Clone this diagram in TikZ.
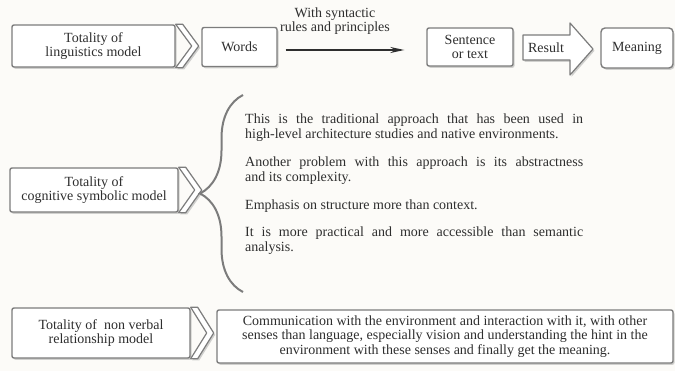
\documentclass[tikz,border=0pt]{standalone}
\usepackage{fontspec}
\setmainfont{Liberation Serif}
\usetikzlibrary{arrows.meta,shadows,decorations.pathreplacing}
\definecolor{cPaper}{HTML}{FCFBF8}
\definecolor{cInk}{HTML}{2E2E2E}
\definecolor{cEdge}{HTML}{7C7C7C}
% chevron glued to the right side of a model box
\newcommand{\chevr}[1]{%
  \draw[chev] (#1.north east) -- ([xshift=7pt]#1.north east) -- ([xshift=23pt]#1.east)
    -- ([xshift=7pt]#1.south east) -- (#1.south east) -- ([xshift=16pt]#1.east) -- cycle;}

\begin{document}
\begin{tikzpicture}[x=1pt,y=-1pt,
  every node/.style={font=\fontsize{14}{14.5}\selectfont,text=cInk},
  box/.style={draw=cEdge,line width=1.4pt,fill=white,rounded corners=2pt,align=center,
    inner sep=2pt,drop shadow={shadow xshift=1.5pt,shadow yshift=-1.8pt,opacity=.35}},
  chev/.style={draw=cEdge,line width=1.2pt,fill=white,line join=round,
    drop shadow={shadow xshift=1.5pt,shadow yshift=-1.8pt,opacity=.35}},
  item/.style={anchor=base west,inner sep=0pt,text width=338pt,align=justify},
  >=Stealth]
\useasboundingbox[fill=cPaper] (0,0) rectangle (675,371);

%============================ ROW 1: linguistics model ============================
\node[box,minimum width=163pt,minimum height=42pt] (lm) at (93.5,46) {Totality of\\linguistics model};
\chevr{lm}
\node[box,minimum width=75pt,minimum height=39pt] (wd) at (239.5,47) {Words};
\node[box,minimum width=86pt,minimum height=38pt] (st) at (470,47) {Sentence\\or text};
\draw[->,draw=cInk,line width=1.6pt,shorten <=8pt,shorten >=22pt,
      >={Stealth[length=14pt,width=6pt]}]
  ([yshift=-3pt]wd.east) -- ([yshift=-3pt]st.west);
\node[align=center,inner sep=0pt] (syn) at (335,21) {With syntactic\\rules and principles};

% block arrow carrying the result
\draw[chev] (523,35) -- (570,35) -- (570,23) -- (593,49) -- (570,75) -- (570,60) -- (523,60) -- cycle;
\node[inner sep=0pt] (res) at (546,47.5) {Result};
\node[box,minimum width=72pt,minimum height=40pt,rounded corners=4pt] (mn) at (637,48) {Meaning};

%============================ ROW 2: cognitive symbolic model ============================
\node[box,minimum width=168pt,minimum height=44pt] (cs) at (94,190) {Totality of\\cognitive symbolic model};
\chevr{cs}
\draw[draw=cEdge,line width=2pt,decorate,decoration={brace,amplitude=43pt}] (243,292) -- (243,95);

\node[item] (it1) at (245,124) {This is the traditional approach that has been used in\linebreak high-level architecture studies and native environments.};
\node[item] (it2) at (245,167) {Another problem with this approach is its abstractness\linebreak and its complexity.};
\node[item] (it3) at (245,210) {Emphasis on structure more than context.};
\node[item] (it4) at (245,237) {It is more practical and more accessible than semantic\linebreak analysis.};

%============================ ROW 3: non verbal relationship model ============================
\node[box,minimum width=178pt,minimum height=50pt] (nv) at (101,333) {Totality of~ non verbal\\relationship model};
\chevr{nv}
\node[box,minimum width=456pt,minimum height=53pt] (cm) at (445,336.5)
  {Communication with the environment and interaction with it, with other\\
   senses than language, especially vision and understanding the hint in the\\
   environment with these senses and finally get the meaning.};

\end{tikzpicture}
\end{document}
